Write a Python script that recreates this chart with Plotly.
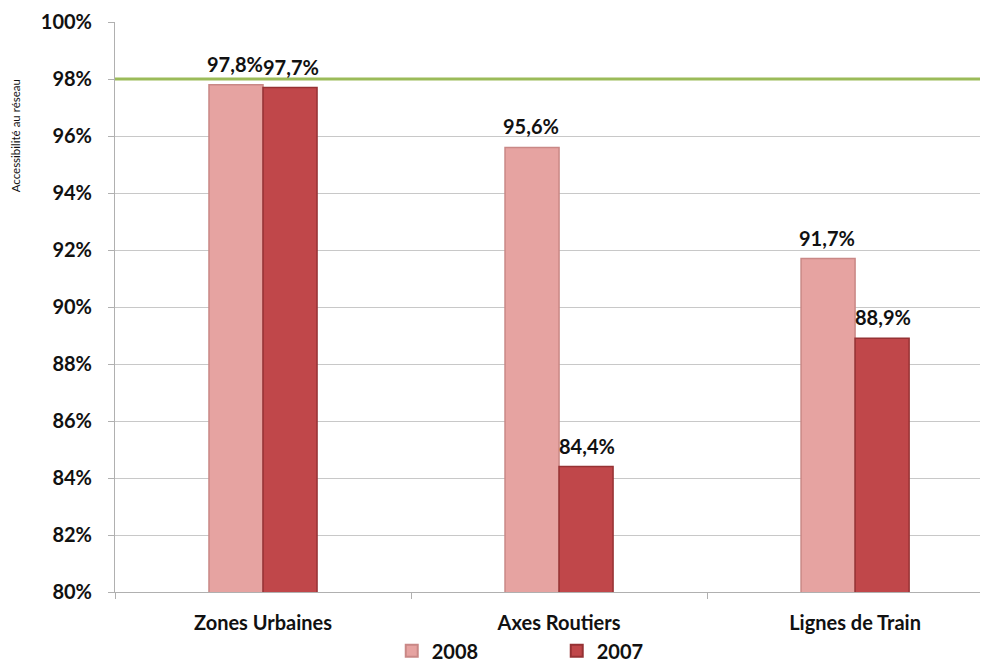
import plotly.graph_objects as go

categories = ["Zones Urbaines", "Axes Routiers", "Lignes de Train"]
series_names = ["2008", "2007"]
values_2008 = [0.978, 0.956, 0.917]
values_2007 = [0.977, 0.844, 0.889]
target = 0.98
y_tick_vals = [0.80, 0.82, 0.84, 0.86, 0.88, 0.90, 0.92, 0.94, 0.96, 0.98, 1.00]

def fmt(v):
    return f"{v*100:.1f}%".replace(".", ",")

FONT = "Lato, 'Open Sans', sans-serif"
BAR_PX = 28  # half group offset in pixels for labels

fig = go.Figure()
fig.add_trace(go.Bar(
    x=categories, y=values_2008, name=series_names[0],
    marker=dict(color="#e6a3a1", line=dict(color="#c98886", width=1.5)),
))
fig.add_trace(go.Bar(
    x=categories, y=values_2007, name=series_names[1],
    marker=dict(color="#c0474a", line=dict(color="#963234", width=1.5)),
))

for vals, shift in ((values_2008, -BAR_PX), (values_2007, BAR_PX)):
    for c, v in zip(categories, vals):
        fig.add_annotation(x=c, y=v, xref="x", yref="y", text=fmt(v), showarrow=False,
                           xshift=shift, yshift=7, yanchor="bottom", xanchor="center",
                           font=dict(size=20, color="#111111", family=FONT, weight="bold"))

fig.add_shape(type="line", xref="paper", yref="y", x0=0, x1=1, y0=target, y1=target,
              line=dict(color="#9bbb59", width=3), layer="above")

fig.add_annotation(text="Accessibilité au réseau", xref="paper", yref="paper",
                   x=-0.113, y=0.80, textangle=-90, showarrow=False,
                   font=dict(size=11.5, color="#111111", family=FONT),
                   xanchor="center", yanchor="middle")

fig.update_layout(
    width=980, height=656,
    margin=dict(l=107, r=0, t=14, b=72, autoexpand=False),
    paper_bgcolor="white", plot_bgcolor="white",
    barmode="group", bargap=0.635, bargroupgap=0,
    showlegend=True,
    legend=dict(orientation="h", x=0.317, y=-0.103, xanchor="left", yanchor="middle",
                bgcolor="rgba(0,0,0,0)",
                entrywidth=120, entrywidthmode="pixels",
                font=dict(size=20, color="#111111", family=FONT, weight="bold"),
                itemsizing="constant", traceorder="normal"),
    font=dict(family=FONT),
)
fig.update_xaxes(
    range=[-0.5, 2.449], type="category", automargin=False,
    showline=True, linecolor="#b0b0b0", linewidth=1,
    ticks="outside", tickson="boundaries", ticklen=6, tickcolor="#b0b0b0",
    tickfont=dict(size=20, color="#111111", family=FONT, weight="bold"),
    ticklabelstandoff=13,
    showgrid=False,
)
fig.update_yaxes(
    range=[0.80, 1.00], tickvals=y_tick_vals, tickformat=".0%", automargin=False,
    showline=True, linecolor="#b0b0b0", linewidth=1,
    ticks="outside", ticklen=6, tickcolor="#b0b0b0",
    gridcolor="#c8c8c8", gridwidth=1,
    tickfont=dict(size=20, color="#111111", family=FONT, weight="bold"),
    ticklabelstandoff=12, zeroline=False,
)

fig.write_html("out.html")
